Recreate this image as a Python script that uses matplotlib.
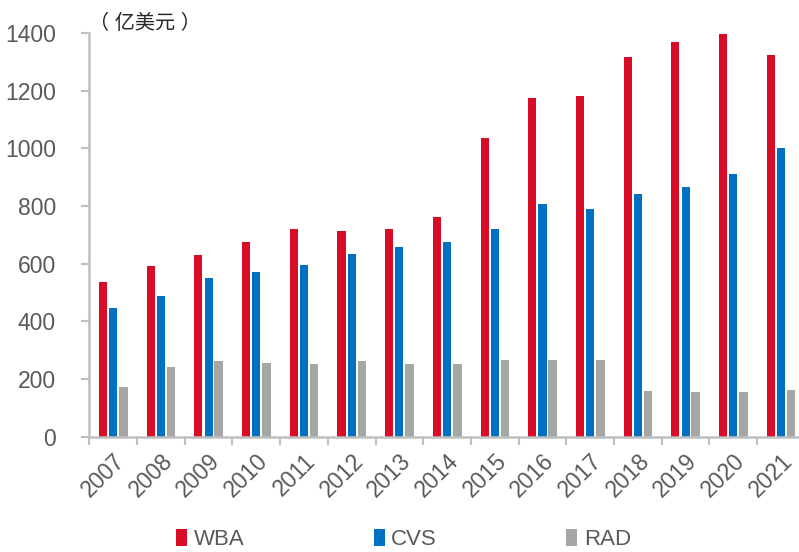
import numpy as np
import matplotlib.pyplot as plt

plt.rcParams['font.family'] = ['Liberation Sans', 'Noto Sans CJK SC', 'DejaVu Sans']

years = [str(y) for y in range(2007, 2022)]
wba = [536, 591, 630, 675, 719, 715, 719, 763, 1035, 1173, 1183, 1316, 1369, 1396, 1325]
cvs = [448, 488, 550, 572, 595, 635, 658, 674, 720, 808, 791, 840, 866, 912, 1000]
rad = [172, 243, 261, 256, 251, 261, 251, 251, 265, 265, 265, 159, 154, 154, 163]

text_color = '#595959'
axis_color = '#BFBFBF'

fig = plt.figure(figsize=(7.99, 5.52), dpi=100)
ax = fig.add_axes([0.1118, 0.2089, 0.8955, 0.7313])

x = np.arange(len(years))
step = 0.213
ax.bar(x - step, wba, width=0.17, color='#D80C26', label='WBA')
ax.bar(x, cvs, width=0.17, color='#0070C0', label='CVS')
ax.bar(x + step, rad, width=0.18, color='#A6A6A6', label='RAD')

ax.set_xlim(-0.5, len(years) - 0.5)
ax.set_ylim(0, 1400)
ax.set_yticks(range(0, 1401, 200))
ax.set_xticks(x)
ax.set_xticklabels(years, rotation=45, ha='right', rotation_mode='anchor')
ax.set_xticks(np.arange(-0.5, len(years), 1), minor=True)
ax.tick_params(axis='x', which='major', length=0, pad=9)
ax.tick_params(axis='x', which='minor', length=6, width=1.5, color=axis_color)
ax.tick_params(axis='y', length=6, width=1.5, color=axis_color, pad=18)
for lab in ax.get_xticklabels() + ax.get_yticklabels():
    lab.set_fontsize(16.5)
    lab.set_color(text_color)

for side in ['top', 'right']:
    ax.spines[side].set_visible(False)
for side in ['left', 'bottom']:
    ax.spines[side].set_color(axis_color)
    ax.spines[side].set_linewidth(1.8)

fig.text(0.111, 0.958, '（ 亿美元 ）', fontsize=14.5, color='#262626', ha='left', va='center')

fig.legend(loc='center', bbox_to_anchor=(0.505, 0.022), ncol=3, frameon=False,
           handlelength=0.5, handleheight=0.8, handletextpad=0.3, columnspacing=5.8,
           fontsize=16, labelcolor=text_color)

fig.savefig('out.png', dpi=100)
